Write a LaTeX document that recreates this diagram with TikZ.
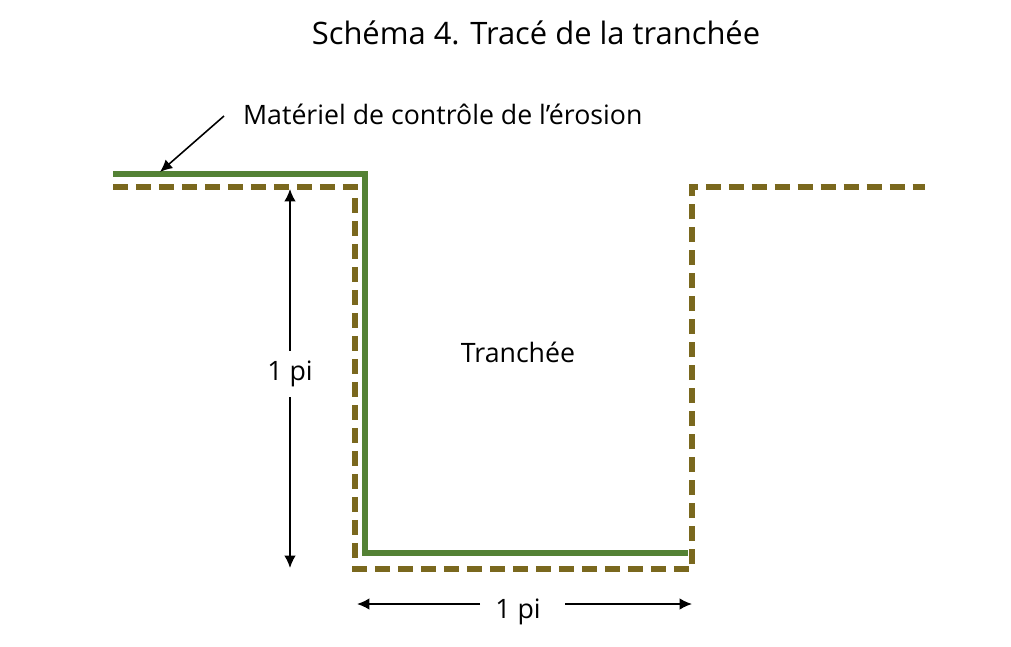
\documentclass[tikz,border=0pt]{standalone}
\usepackage{fontspec}
\setmainfont{Open Sans}
\usetikzlibrary{arrows.meta}
\definecolor{gazon}{RGB}{84,130,53}
\definecolor{terre}{RGB}{122,104,30}
\tikzset{
	couverture/.style={gazon, line width=3.6pt},
	sol/.style={terre, line width=2.9pt, dash pattern=on 0.3cm off 0.16cm},
	cote/.style={line width=0.9pt, -{Latex[length=7pt,width=6.5pt]}},
	etiquette/.style={font=\fontsize{15.2}{18}\selectfont, inner sep=1pt}
}
\begin{document}
\begin{tikzpicture}[x=0.02cm, y=-0.02cm]
		%\draw [help lines] (0,0) grid (1011,646);
		\useasboundingbox (0,0) rectangle (1011,646);
		\node (titre) at (536,33) {\fontsize{17.6}{21}\selectfont Schéma 4. Tracé de la tranchée};
		% terrain d'origine
		\draw[sol] (113,187) -- (355,187) -- (355,569) -- (692,569) -- (692,187) -- (925,187);
		% materiel de controle
		\draw[couverture] (113,174) -- (365,174) -- (365,553) -- (688,553);
		\node[etiquette, anchor=west] (materiel) at (241,114) {Matériel de contrôle de l’érosion};
		\coordinate (pointe) at (160,172);
		\draw[cote] (224,116) -- (pointe);
		\node[etiquette] (tranchee) at (518,352) {Tranchée};
		% profondeur
		\node[etiquette] (prof) at (290,374) {1 pi};
		\coordinate (haut) at (290,189);
		\coordinate (bas) at (290,568);
		\draw[cote] (prof.north) ++(0,-8) -- (haut);
		\draw[cote] (prof.south) ++(0,8) -- (bas);
		% largeur
		\node[etiquette] (larg) at (518,612) {1 pi};
		\coordinate (gauche) at (357,604);
		\coordinate (droite) at (692,604);
		\draw[cote] (480,604) -- (gauche);
		\draw[cote] (565,604) -- (droite);
\end{tikzpicture}
\end{document}
